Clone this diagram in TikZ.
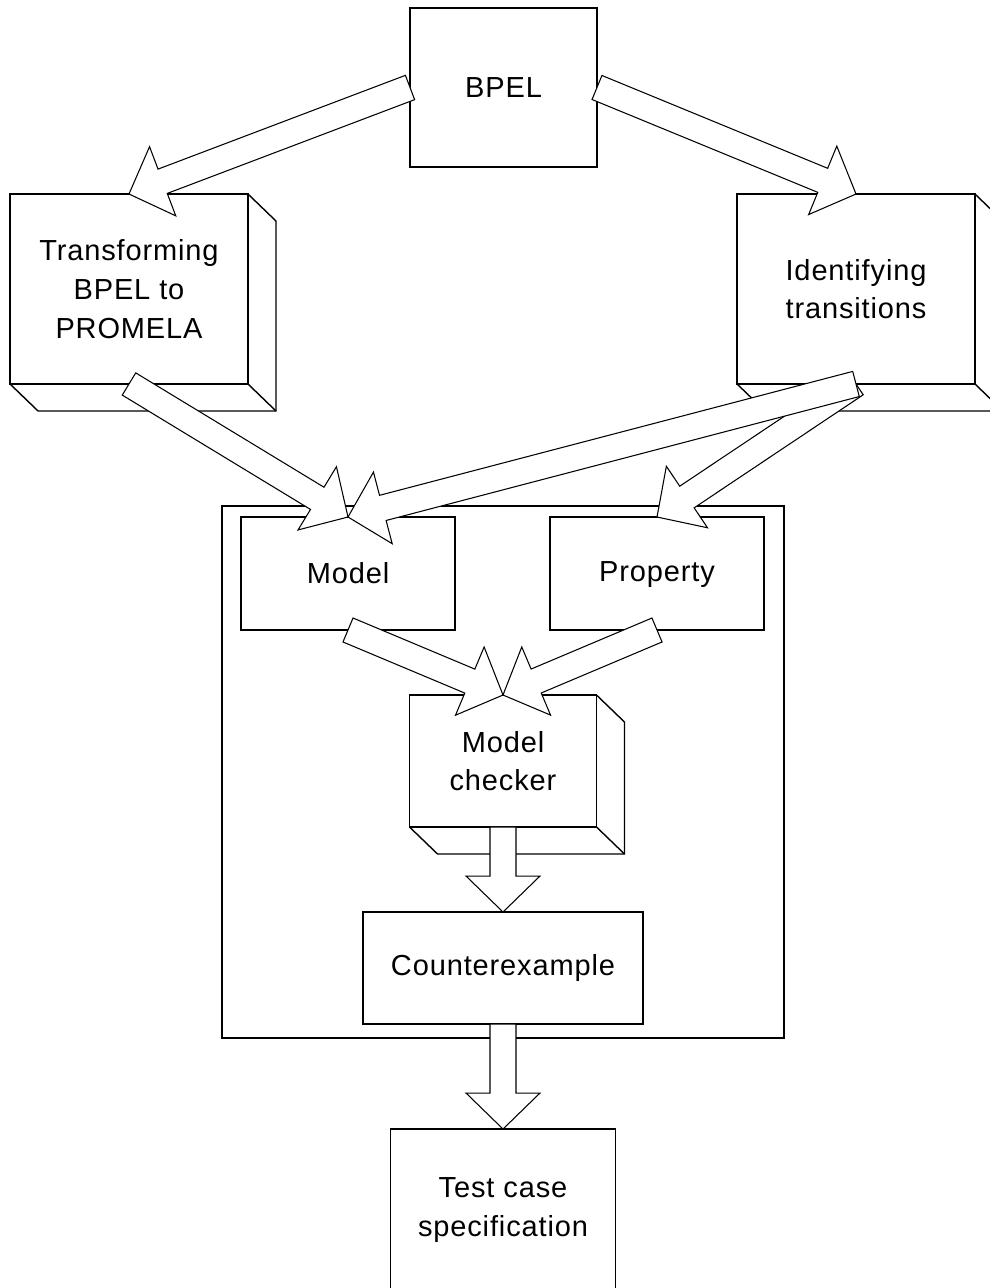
\documentclass[tikz,border=0pt]{standalone}
\usepackage{fontspec}
\setmainfont[LetterSpace=3]{Liberation Sans}
\usetikzlibrary{calc}

% hollow block arrow from #1 (tail) to #2 (tip)
\newcommand\fatarrow[2]{%
  \coordinate (hb) at ($(#2)!0.72cm!(#1)$);
  \draw[hollow] ($(#1)!0.26cm!90:(#2)$) -- ($(hb)!0.26cm!-90:(#1)$)
     -- ($(hb)!0.74cm!-90:(#1)$) -- (#2) -- ($(hb)!0.74cm!90:(#1)$)
     -- ($(hb)!0.26cm!90:(#1)$) -- ($(#1)!0.26cm!-90:(#2)$) -- cycle;}
% side faces of a box drawn in relief
\newcommand\solidbox[1]{%
  \draw[edge] (#1.north east) -- ++(28,27) |- ($(#1.south west)+(28,27)$) -- (#1.south west);
  \draw[edge] (#1.south east) -- ++(28,27);}

\begin{document}
\begin{tikzpicture}  % ------ BPEL to test cases ---------------
      [x={(0.02cm,0cm)},y={(0cm,-0.02cm)},
       box/.style={draw,fill=white,line width=0.8pt,inner sep=0pt,outer sep=0pt,
                   align=center,font=\fontsize{16.5}{22}\selectfont},
       edge/.style={line width=0.8pt},
       hollow/.style={draw,fill=white,line width=0.6pt,line join=miter}]
    \useasboundingbox (0,0) rectangle (990,1288);
    \clip (0,0) rectangle (990,1288);

    \node[box,minimum width=3.74cm,minimum height=3.18cm] (bpel) at (503.5,87.5) {BPEL};
    \node[box,minimum width=4.76cm,minimum height=3.8cm] (trans) at (129,289) {Transforming\\BPEL to\\PROMELA};
    \node[box,minimum width=4.76cm,minimum height=3.8cm] (ident) at (856,289) {Identifying\\transitions};

    \draw[edge] (222,506) rectangle (784,1038);
    \node[box,minimum width=4.28cm,minimum height=2.26cm] (model) at (348,573.5) {Model};
    \node[box,minimum width=4.28cm,minimum height=2.26cm] (prop) at (657,573.5) {\strut Property};
    \node[box,minimum width=3.74cm,minimum height=2.64cm] (check) at (503,761) {Model\\checker};
    \node[box,minimum width=5.6cm,minimum height=2.24cm] (counter) at (503,968) {Counterexample};
    \node[box,minimum width=4.5cm,minimum height=3.24cm] (test) at (503,1210) {Test case\\specification};

    \solidbox{trans}
    \solidbox{ident}
    \solidbox{check}

    \fatarrow{bpel.west}{trans.north}
    \fatarrow{bpel.east}{ident.north}
    \fatarrow{trans.south}{model.north}
    \fatarrow{ident.south}{prop.north}
    \fatarrow{ident.south}{model.north}
    \fatarrow{model.south}{check.north}
    \fatarrow{prop.south}{check.north}
    \fatarrow{check.south}{counter.north}
    \fatarrow{counter.south}{test.north}
\end{tikzpicture}
\end{document}
